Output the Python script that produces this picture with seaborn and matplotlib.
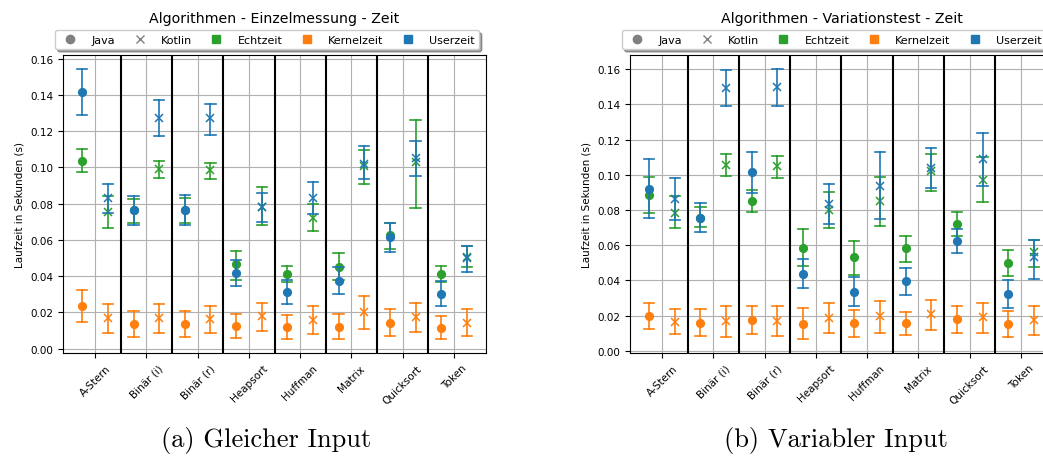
import numpy as np
import pandas as pd
import seaborn as sns
import matplotlib
matplotlib.use('Agg')
import matplotlib.pyplot as plt
from matplotlib.lines import Line2D

algorithmen = ['A-Stern', 'Binär (i)', 'Binär (r)', 'Heapsort',
               'Huffman', 'Matrix', 'Quicksort', 'Token']
sprachen = ['Java', 'Kotlin']
messungen = ['Echtzeit', 'Kernelzeit', 'Userzeit']
farben = {'Echtzeit': '#2ca02c', 'Kernelzeit': '#ff7f0e', 'Userzeit': '#1f77b4'}

# Werte je Algorithmus als (Mittelwert, untere Grenze, obere Grenze)
# (a) Gleicher Input
ein_java_echt = [(0.1037, 0.0976, 0.1100), (0.0762, 0.0694, 0.0826), (0.0763, 0.0694, 0.0829),
                 (0.0464, 0.0380, 0.0541), (0.0411, 0.0367, 0.0457), (0.0450, 0.0380, 0.0525),
                 (0.0628, 0.0550, 0.0695), (0.0409, 0.0367, 0.0457)]
ein_java_kernel = [(0.0233, 0.0147, 0.0323), (0.0138, 0.0064, 0.0207), (0.0138, 0.0064, 0.0207),
                   (0.0125, 0.0059, 0.0193), (0.0119, 0.0055, 0.0184), (0.0119, 0.0055, 0.0189),
                   (0.0143, 0.0070, 0.0218), (0.0116, 0.0050, 0.0182)]
ein_java_user = [(0.1417, 0.1290, 0.1545), (0.0762, 0.0683, 0.0844), (0.0763, 0.0684, 0.0850),
                 (0.0417, 0.0343, 0.0486), (0.0312, 0.0246, 0.0380), (0.0374, 0.0303, 0.0448),
                 (0.0615, 0.0534, 0.0695), (0.0303, 0.0233, 0.0372)]
ein_kotlin_echt = [(0.0752, 0.0664, 0.0844), (0.0991, 0.0941, 0.1033), (0.0987, 0.0938, 0.1026),
                   (0.0780, 0.0679, 0.0892), (0.0721, 0.0648, 0.0796), (0.1006, 0.0910, 0.1096),
                   (0.1031, 0.0778, 0.1262), (0.0505, 0.0448, 0.0565)]
ein_kotlin_kernel = [(0.0169, 0.0086, 0.0244), (0.0169, 0.0086, 0.0244), (0.0165, 0.0083, 0.0237),
                     (0.0178, 0.0095, 0.0253), (0.0156, 0.0081, 0.0233), (0.0202, 0.0110, 0.0288),
                     (0.0172, 0.0090, 0.0253), (0.0143, 0.0070, 0.0218)]
ein_kotlin_user = [(0.0829, 0.0749, 0.0908), (0.1272, 0.1171, 0.1369), (0.1270, 0.1178, 0.1352),
                   (0.0782, 0.0697, 0.0859), (0.0831, 0.0741, 0.0918), (0.1018, 0.0936, 0.1116),
                   (0.1050, 0.0952, 0.1145), (0.0499, 0.0422, 0.0565)]

# (b) Variabler Input
var_java_echt = [(0.0883, 0.0781, 0.0985), (0.0757, 0.0702, 0.0817), (0.0849, 0.0789, 0.0912),
                 (0.0586, 0.0480, 0.0694), (0.0530, 0.0429, 0.0622), (0.0583, 0.0505, 0.0654),
                 (0.0722, 0.0650, 0.0790), (0.0499, 0.0426, 0.0573)]
var_java_kernel = [(0.0199, 0.0123, 0.0270), (0.0159, 0.0085, 0.0236), (0.0174, 0.0095, 0.0257),
                   (0.0151, 0.0064, 0.0244), (0.0155, 0.0079, 0.0231), (0.0155, 0.0087, 0.0223),
                   (0.0183, 0.0102, 0.0253), (0.0151, 0.0079, 0.0227)]
var_java_user = [(0.0921, 0.0757, 0.1091), (0.0757, 0.0675, 0.0838), (0.1014, 0.0898, 0.1129),
                 (0.0437, 0.0357, 0.0524), (0.0335, 0.0253, 0.0420), (0.0395, 0.0316, 0.0471),
                 (0.0626, 0.0556, 0.0692), (0.0322, 0.0242, 0.0403)]
var_kotlin_echt = [(0.0785, 0.0698, 0.0878), (0.1053, 0.0991, 0.1120), (0.1048, 0.0983, 0.1105),
                   (0.0802, 0.0700, 0.0902), (0.0849, 0.0711, 0.0985), (0.1019, 0.0908, 0.1120),
                   (0.0972, 0.0843, 0.1101), (0.0560, 0.0475, 0.0632)]
var_kotlin_kernel = [(0.0165, 0.0093, 0.0236), (0.0168, 0.0079, 0.0253), (0.0168, 0.0085, 0.0253),
                     (0.0187, 0.0098, 0.0272), (0.0197, 0.0102, 0.0282), (0.0208, 0.0117, 0.0291),
                     (0.0191, 0.0102, 0.0272), (0.0174, 0.0087, 0.0253)]
var_kotlin_user = [(0.0861, 0.0741, 0.0980), (0.1494, 0.1390, 0.1594), (0.1498, 0.1390, 0.1604),
                   (0.0836, 0.0722, 0.0949), (0.0936, 0.0747, 0.1129), (0.1040, 0.0927, 0.1154),
                   (0.1088, 0.0936, 0.1237), (0.0531, 0.0410, 0.0632)]


def long_df(werte):
    # je Punkt drei Zeilen (unten, mittel, oben): Median = Mittelwert, 0-100 Perzentil = Fehlerbalken
    rows = []
    for (sprache, messung), liste in werte.items():
        for algo, (m, lo, hi) in zip(algorithmen, liste):
            for v in (lo, m, hi):
                rows.append({'Algorithmus': algo, 'Sprache': sprache,
                             'Messung': messung, 'Laufzeit': v})
    return pd.DataFrame(rows)


df_ein = long_df({
    ('Java', 'Echtzeit'): ein_java_echt, ('Java', 'Kernelzeit'): ein_java_kernel,
    ('Java', 'Userzeit'): ein_java_user, ('Kotlin', 'Echtzeit'): ein_kotlin_echt,
    ('Kotlin', 'Kernelzeit'): ein_kotlin_kernel, ('Kotlin', 'Userzeit'): ein_kotlin_user,
})
df_var = long_df({
    ('Java', 'Echtzeit'): var_java_echt, ('Java', 'Kernelzeit'): var_java_kernel,
    ('Java', 'Userzeit'): var_java_user, ('Kotlin', 'Echtzeit'): var_kotlin_echt,
    ('Kotlin', 'Kernelzeit'): var_kotlin_kernel, ('Kotlin', 'Userzeit'): var_kotlin_user,
})

plt.rcParams['font.family'] = ['DejaVu Sans']

fig = plt.figure(figsize=(10.43, 4.6), dpi=100)
ax_a = fig.add_axes([0.0604, 0.2304, 0.4056, 0.6478])
ax_b = fig.add_axes([0.6040, 0.2304, 0.4056, 0.6478])


def zeichne(ax, df, titel):
    for messung in messungen:
        sns.pointplot(
            data=df[df['Messung'] == messung],
            x='Algorithmus', y='Laufzeit', hue='Sprache',
            order=algorithmen, hue_order=sprachen,
            palette={s: farben[messung] for s in sprachen},
            markers=['o', 'x'], linestyle='none', dodge=0.5,
            estimator='median', errorbar=('pi', 100),
            capsize=0.2, err_kws={'linewidth': 1.2},
            markersize=5.5, markeredgewidth=1.1,
            legend=False, ax=ax,
        )
    for i in range(len(algorithmen) - 1):
        ax.axvline(i + 0.5, color='black', lw=1.5, zorder=1)
    ax.set_xlim(-0.625, len(algorithmen) - 0.375)
    ax.grid(True, color='#b0b0b0', lw=0.8)
    ax.set_axisbelow(True)
    ax.set_xlabel('')
    ax.set_ylabel('Laufzeit in Sekunden (s)', fontsize=7.5)
    ax.tick_params(labelsize=7.5)
    plt.setp(ax.get_xticklabels(), rotation=45, ha='center')
    ax.set_title(titel, fontsize=10.2, pad=24)

    handles = [
        Line2D([], [], ls='none', marker='o', color='gray', markersize=6),
        Line2D([], [], ls='none', marker='x', color='gray', markersize=6),
    ] + [Line2D([], [], ls='none', marker='s', color=farben[m], markersize=6) for m in messungen]
    ax.legend(handles, sprachen + messungen, loc='upper center',
              bbox_to_anchor=(0.482, 1.102), ncol=5, fontsize=8,
              shadow=True, handlelength=2.0, handletextpad=0.9, columnspacing=1.2)


zeichne(ax_a, df_ein, 'Algorithmen - Einzelmessung - Zeit')
zeichne(ax_b, df_var, 'Algorithmen - Variationstest - Zeit')

fig.text(266 / 1043, 1 - 441 / 460, '(a) Gleicher Input', family='cmr10',
         fontsize=19, ha='center', va='center')
fig.text(836 / 1043, 1 - 441 / 460, '(b) Variabler Input', family='cmr10',
         fontsize=19, ha='center', va='center')

fig.savefig('out.png', dpi=100)
